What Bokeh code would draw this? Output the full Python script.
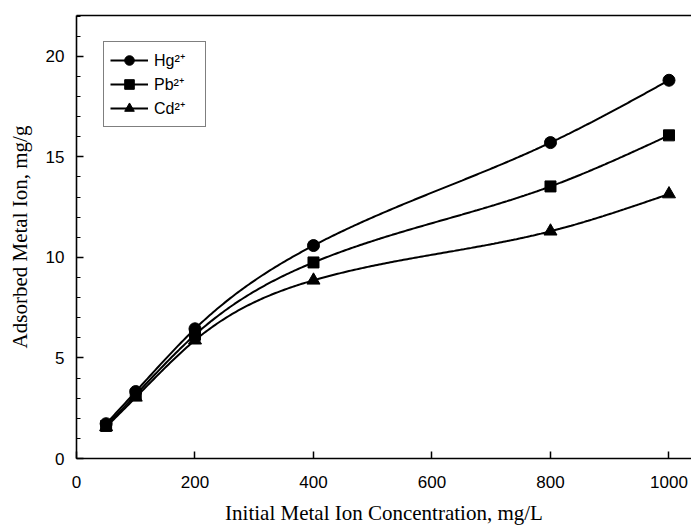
import numpy as np
from bokeh.plotting import figure
from bokeh.models import Range1d, LinearAxis, Legend, LegendItem, FixedTicker
from bokeh.embed import file_html
from bokeh.resources import INLINE

# ---- data ----
conc = [50, 100, 200, 400, 800, 1000]
hg = [1.73, 3.33, 6.45, 10.59, 15.71, 18.81]
pb = [1.62, 3.17, 6.15, 9.75, 13.53, 16.07]
cd = [1.57, 3.04, 5.88, 8.86, 11.30, 13.15]
series_names = ["Hg²⁺", "Pb²⁺", "Cd²⁺"]
x_ticks = [0, 200, 400, 600, 800, 1000]
y_ticks = [0, 5, 10, 15, 20]


def natural_spline(xs, ys, n=300):
    xs = np.asarray(xs, float)
    ys = np.asarray(ys, float)
    k = len(xs)
    h = np.diff(xs)
    A = np.zeros((k, k))
    r = np.zeros(k)
    A[0, 0] = 1
    A[-1, -1] = 1
    for i in range(1, k - 1):
        A[i, i - 1] = h[i - 1]
        A[i, i] = 2 * (h[i - 1] + h[i])
        A[i, i + 1] = h[i]
        r[i] = 3 * ((ys[i + 1] - ys[i]) / h[i] - (ys[i] - ys[i - 1]) / h[i - 1])
    c = np.linalg.solve(A, r)
    xx = np.linspace(xs[0], xs[-1], n)
    idx = np.clip(np.searchsorted(xs, xx) - 1, 0, k - 2)
    dx = xx - xs[idx]
    b = (ys[1:] - ys[:-1]) / h - h * (2 * c[:-1] + c[1:]) / 3
    d = (c[1:] - c[:-1]) / (3 * h)
    yy = ys[idx] + b[idx] * dx + c[idx] * dx ** 2 + d[idx] * dx ** 3
    return xx, yy


p = figure(width=691, height=527, output_backend="svg", toolbar_location=None,
           x_range=Range1d(0, 1038), y_range=Range1d(0, 22.03),
           min_border_left=76, min_border_top=15, min_border_bottom=67,
           min_border_right=0, x_axis_location=None, y_axis_location=None)
p.outline_line_color = None
p.xgrid.visible = False
p.ygrid.visible = False
p.background_fill_color = "white"
p.border_fill_color = "white"

xa = LinearAxis(ticker=FixedTicker(ticks=x_ticks, minor_ticks=[]))
xa.axis_label = "Initial Metal Ion Concentration, mg/L"
ya = LinearAxis(ticker=FixedTicker(ticks=y_ticks, minor_ticks=list(range(0, 23))))
ya.axis_label = "Adsorbed Metal Ion, mg/g"
for ax in (xa, ya):
    ax.axis_line_width = 1.6
    ax.axis_line_color = "black"
    ax.major_tick_in = 7
    ax.major_tick_out = 0
    ax.minor_tick_in = 4
    ax.minor_tick_out = 0
    ax.major_tick_line_width = 1.5
    ax.major_tick_line_color = "black"
    ax.minor_tick_line_width = 1
    ax.minor_tick_line_color = "black"
    ax.major_label_text_font = "Liberation Sans"
    ax.major_label_text_font_size = "17px"
    ax.major_label_text_color = "black"
    ax.axis_label_text_font = "Liberation Serif"
    ax.axis_label_text_font_style = "normal"
    ax.axis_label_text_font_size = "21px"
    ax.axis_label_text_color = "black"
xa.major_label_standoff = 17
xa.axis_label_standoff = 10
ya.major_label_standoff = 12
ya.axis_label_standoff = 11
p.add_layout(xa, "below")
p.add_layout(ya, "left")

top = LinearAxis(ticker=FixedTicker(ticks=[]), major_label_text_font_size="0px",
                 axis_line_width=1.6, axis_line_color="black",
                 major_tick_line_color=None, minor_tick_line_color=None)
p.add_layout(top, "above")

markers = ["circle", "square", "triangle"]
sizes = [12, 11, 13]
items = []
for ys, name, mk, sz in zip([hg, pb, cd], series_names, markers, sizes):
    sx, sy = natural_spline(conc, ys)
    ln = p.line(sx, sy, line_color="black", line_width=2)
    sc = p.scatter(conc, ys, marker=mk, size=sz, fill_color="black", line_color="black")
    items.append(LegendItem(label=name, renderers=[ln, sc]))

leg = Legend(items=items, location=(27, 331), margin=0)
leg.border_line_color = "black"
leg.border_line_width = 1.2
leg.glyph_width = 38
leg.glyph_height = 24
leg.label_height = 18
leg.label_width = 45
leg.spacing = 0
leg.padding = 6
leg.label_standoff = 6
leg.label_text_font = "Liberation Sans"
leg.label_text_font_size = "16px"
leg.label_text_color = "black"
leg.background_fill_alpha = 1
p.add_layout(leg, "center")

open("out.html", "w").write(file_html(p, INLINE))
